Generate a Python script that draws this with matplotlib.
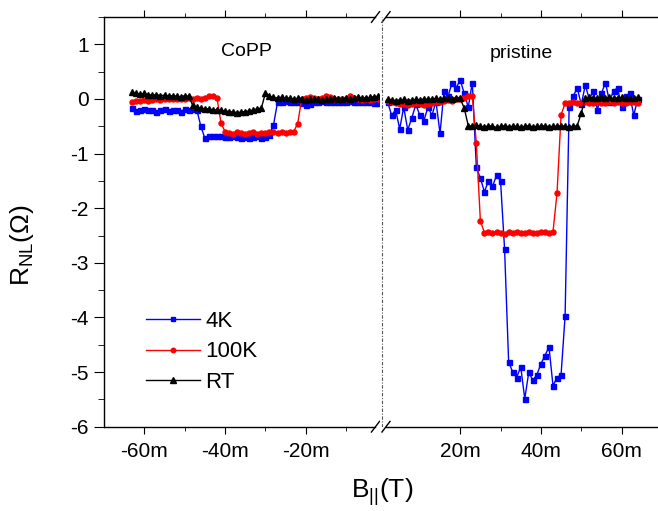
import numpy as np
import matplotlib
matplotlib.use('Agg')
import matplotlib.pyplot as plt
from matplotlib.ticker import MultipleLocator, FixedLocator, FuncFormatter

plt.rcParams['font.family'] = ['Liberation Sans', 'DejaVu Sans']
plt.rcParams['mathtext.fontset'] = 'custom'
plt.rcParams['mathtext.rm'] = 'Liberation Sans'
plt.rcParams['axes.unicode_minus'] = False

# field values in mT, left panel = CoPP, right panel = pristine
b_copp = np.arange(-63, -1)
b_pris = np.arange(2, 65)

copp_4k = [-0.17, -0.22, -0.2, -0.19, -0.21, -0.2, -0.23, -0.2, -0.19, -0.22, -0.21, -0.2, -0.23, -0.19, -0.2, -0.18, -0.2,
           -0.5,
           -0.72, -0.68, -0.68, -0.67, -0.68, -0.69, -0.7, -0.68, -0.7, -0.71, -0.69, -0.72, -0.7, -0.68, -0.71, -0.7, -0.66,
           -0.48, -0.06,
           -0.05, -0.04, -0.05, -0.06, -0.05, -0.07, -0.12, -0.1, -0.06, -0.05, -0.04, -0.05, -0.06, -0.05, -0.05, -0.06,
           -0.05, -0.04, -0.06, -0.05, -0.06, -0.05, -0.06, -0.07, -0.08]
copp_100k = [-0.05, -0.04, -0.03, -0.02, -0.03, -0.02, -0.01, -0.02, -0.01, 0.0, -0.01, 0.0, -0.01, 0.0, 0.01, 0.0,
             0.02, 0.0, 0.02, 0.05, 0.06, 0.02,
             -0.44,
             -0.6, -0.62, -0.64, -0.6, -0.63, -0.65, -0.62, -0.6, -0.64, -0.62, -0.63, -0.61, -0.6, -0.62, -0.6, -0.62, -0.61, -0.6,
             -0.45,
             0.0, 0.02, 0.03, 0.01, 0.0, 0.02, 0.05, 0.03, 0.0, -0.01, 0.0, 0.0, 0.05, 0.02, 0.0, -0.02, 0.0, -0.02, -0.01, 0.0]
copp_rt = [0.12, 0.1, 0.09, 0.1, 0.08, 0.07, 0.08, 0.06, 0.07, 0.05, 0.06, 0.05, 0.04, 0.06, 0.05,
           -0.12,
           -0.15, -0.17, -0.18, -0.18, -0.2, -0.2, -0.21, -0.22, -0.23, -0.24, -0.25, -0.24, -0.23, -0.22, -0.2, -0.18, -0.17,
           0.11,
           0.05, 0.03, 0.02, 0.03, 0.01, 0.02, 0.0, 0.01, 0.0, -0.02, 0.0, -0.01, 0.0, -0.02, -0.01, 0.0, 0.01, -0.01, 0.0,
           0.02, 0.0, 0.01, 0.03, 0.02, 0.01, 0.03, 0.04, 0.05]

pris_4k = [-0.05, -0.3, -0.2, -0.55, -0.15, -0.57, -0.35, -0.1, -0.3, -0.4, -0.15, -0.3, -0.05,
           -0.63, 0.15, 0.05, 0.3, 0.2, 0.35, 0.1, -0.15,
           0.3, -1.25,
           -1.45, -1.7, -1.5, -1.6, -1.4, -1.5,
           -2.75,
           -4.81, -5.0, -5.1, -4.9, -5.49, -5.0, -5.15, -5.05, -4.85, -4.7, -4.54, -5.25, -5.1, -5.05,
           -3.97,
           -0.14, 0.05, 0.2, -0.1, 0.25, 0.0, 0.15, -0.2, 0.1, 0.3, -0.05, 0.15, 0.2, -0.15, 0.05, 0.1, -0.3, 0.0]
pris_100k = [-0.03, -0.05, -0.08, -0.1, -0.1, -0.12, -0.1, -0.08, -0.1, -0.12, -0.1, -0.08, -0.05, -0.05, -0.03,
             -0.02, -0.03, 0.0, 0.0, 0.02, 0.05, 0.05,
             -0.81, -2.23,
             -2.45, -2.43, -2.46, -2.44, -2.45, -2.47, -2.44, -2.45, -2.43, -2.46, -2.45, -2.44, -2.46, -2.45, -2.43,
             -2.44, -2.45, -2.43,
             -1.72, -0.29,
             -0.08, -0.07, -0.06, -0.08, -0.07, -0.06, -0.08, -0.07, -0.05, -0.07, -0.08, -0.06, -0.07, -0.06, -0.08,
             -0.07, -0.05, -0.06, -0.07]
pris_rt = [0.0, -0.02, -0.03, -0.02, -0.01, -0.03, -0.02, -0.01, -0.02, 0.0, -0.01, 0.0, 0.01, 0.0, 0.02, 0.01, 0.0, 0.02, 0.01,
           -0.17,
           -0.49, -0.5, -0.48, -0.5, -0.51, -0.49, -0.5, -0.52, -0.5, -0.49, -0.51, -0.5, -0.5, -0.52, -0.5, -0.49, -0.51,
           -0.5, -0.5, -0.49, -0.51, -0.5, -0.5, -0.49, -0.5, -0.51, -0.5, -0.49,
           -0.26,
           0.02, 0.03, 0.02, 0.01, 0.03, 0.02, 0.03, 0.01, 0.02, 0.03, 0.02, 0.01, 0.02, 0.03]

labels = ['4K', '100K', 'RT']
colors = ['#0000FF', '#FF0000', '#000000']
markers = ['s', 'o', '^']
left_ticks = [-60, -40, -20]
right_ticks = [20, 40, 60]

fig = plt.figure(figsize=(6.58, 5.11), dpi=100)
W, H = 658.0, 511.0
scale = 4.035  # px per mT
ax_l = fig.add_axes([104 / W, 84.3 / H, 275.5 / W, 409.7 / H])
ax_r = fig.add_axes([379.5 / W, 84.3 / H, 70 * scale / W, 409.7 / H])

for ax, xs, series, ticks in [(ax_l, b_copp, [copp_4k, copp_100k, copp_rt], left_ticks),
                              (ax_r, b_pris, [pris_4k, pris_100k, pris_rt], right_ticks)]:
    for ys, lab, c, m in zip(series, labels, colors, markers):
        ax.plot(xs, ys, color=c, marker=m, ms=3.6 if m != '^' else 4.2, lw=1.0, label=lab)
    ax.set_ylim(-6, 1.5)
    for s in ax.spines.values():
        s.set_linewidth(1.0)
    ax.tick_params(axis='x', which='both', direction='out', top=True, labelsize=15, pad=6)
    ax.tick_params(axis='x', which='major', length=5)
    ax.tick_params(axis='x', which='minor', length=3)
    ax.xaxis.set_major_locator(FixedLocator(ticks))
    ax.xaxis.set_minor_locator(FixedLocator([t + 10 for t in ticks]))
    ax.xaxis.set_major_formatter(FuncFormatter(lambda v, p: f'{int(round(v))}m'))

ax_l.set_xlim(-70, -70 + 275.5 / scale)
ax_r.set_xlim(0, 70)

ax_l.spines['right'].set_visible(False)
ax_r.spines['left'].set_visible(False)
ax_r.spines['right'].set_visible(False)
ax_r.tick_params(axis='y', which='both', left=False, labelleft=False)

ax_l.yaxis.set_major_locator(MultipleLocator(1))
ax_l.yaxis.set_minor_locator(MultipleLocator(0.5))
ax_l.yaxis.set_major_formatter(FuncFormatter(lambda v, p: f'{int(round(v))}'))
ax_l.tick_params(axis='y', which='both', direction='out', labelsize=15, pad=4)
ax_l.tick_params(axis='y', which='major', length=7)
ax_l.tick_params(axis='y', which='minor', length=4)

# axis break
xb_l = -70 + 271.5 / scale
xb_r = 6.5 / scale
ax_l.spines['top'].set_bounds(-70, xb_l)
ax_l.spines['bottom'].set_bounds(-70, xb_l)
ax_r.spines['top'].set_bounds(xb_r, 70)
ax_r.spines['bottom'].set_bounds(xb_r, 70)
for ax, xb in [(ax_l, xb_l), (ax_r, xb_r)]:
    tr = ax.get_xaxis_transform()
    for yy in (0, 1):
        ax.plot([xb - 1.0, xb + 1.0], [yy - 0.013, yy + 0.013], color='black', lw=1.0,
                transform=tr, clip_on=False)
ax_r.axvline(2.5 / scale, color='#555555', lw=0.8, linestyle=(0, (3, 1.5, 1, 1.5)))

ax_l.text(-34.6, 0.86, 'CoPP', fontsize=14, ha='center', va='center')
ax_r.text(35.2, 0.84, 'pristine', fontsize=14, ha='center', va='center')

ax_l.legend(loc='upper left', bbox_to_anchor=(0.151, 0.283), frameon=False, fontsize=16,
            handlelength=2.43, handletextpad=0.27, labelspacing=0.43, borderpad=0, borderaxespad=0,
            markerscale=0.9)

fig.text(22 / W, 1 - 245 / H, r'R$_{\mathregular{NL}}$(Ω)', rotation=90, fontsize=19,
         ha='center', va='center')
fig.text(382 / W, 1 - 492 / H, r'B$_{\mathregular{||}}$(T)', fontsize=19, ha='center', va='center')

fig.savefig('out.png', dpi=100)
